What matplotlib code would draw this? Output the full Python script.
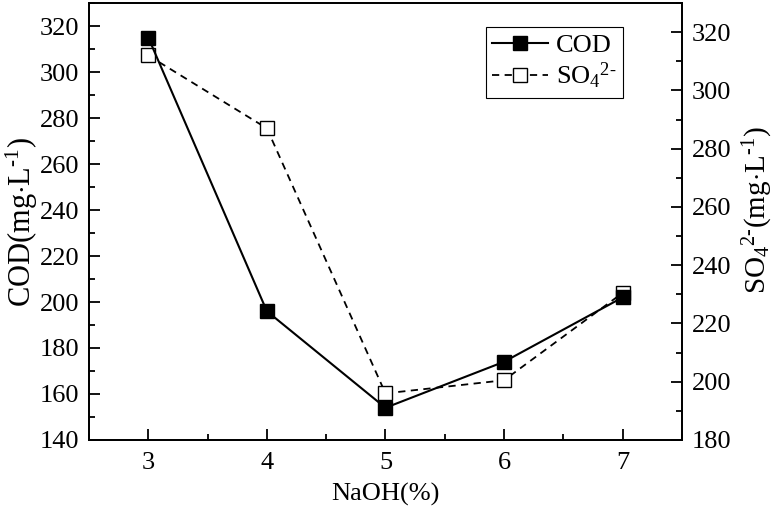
import matplotlib
matplotlib.use('Agg')
import matplotlib.pyplot as plt
from matplotlib.ticker import MultipleLocator

# ---- data ----
naoh = [3, 4, 5, 6, 7]
cod = [315, 196, 154, 174, 202]
so4 = [312, 287, 196, 200.5, 230.5]

plt.rcParams['font.family'] = 'serif'
plt.rcParams['font.serif'] = ['Liberation Serif', 'DejaVu Serif']
plt.rcParams['mathtext.fontset'] = 'custom'
plt.rcParams['mathtext.rm'] = 'Liberation Serif'
plt.rcParams['mathtext.it'] = 'Liberation Serif:italic'
plt.rcParams['font.size'] = 19

fig = plt.figure(figsize=(7.74, 5.11), dpi=100)
ax1 = fig.add_axes([0.115, 0.139, 0.766, 0.855])
ax2 = ax1.twinx()

l1, = ax1.plot(naoh, cod, color='black', linewidth=1.5, marker='s',
               markersize=9.5, markerfacecolor='black', label='COD')
l2, = ax2.plot(naoh, so4, color='black', linewidth=1.3, linestyle=(0, (4, 3)),
               marker='s', markersize=9.5, markerfacecolor='white',
               label=r'SO$_4$$^{2\text{-}}$')

ax1.set_xlim(2.5, 7.5)
ax1.set_ylim(140, 330)
ax2.set_ylim(180, 330)

ax1.xaxis.set_major_locator(MultipleLocator(1))
ax1.xaxis.set_minor_locator(MultipleLocator(0.5))
ax1.yaxis.set_major_locator(MultipleLocator(20))
ax1.yaxis.set_minor_locator(MultipleLocator(10))
ax2.yaxis.set_major_locator(MultipleLocator(20))
ax2.yaxis.set_minor_locator(MultipleLocator(10))

for ax in (ax1, ax2):
    ax.tick_params(which='both', direction='in', width=1.3, labelsize=19, pad=7)
    ax.tick_params(which='major', length=8)
    ax.tick_params(which='minor', length=4)
    for s in ax.spines.values():
        s.set_linewidth(1.3)
ax1.tick_params(axis='x', pad=9)

ax1.set_xlabel('NaOH(%)', fontsize=19, labelpad=6)
ax1.set_ylabel(r'COD(mg$\cdot$L$^{\text{-}1}$)', fontsize=22, labelpad=0)
ax2.set_ylabel(r'SO$_4$$^{2\text{-}}$(mg$\cdot$L$^{\text{-}1}$)', fontsize=21,
               labelpad=3)
ax2.yaxis.set_label_coords(1.1, 0.525)

leg = ax1.legend(handles=[l1, l2], loc='upper right',
                 bbox_to_anchor=(0.9005, 0.945), borderaxespad=0,
                 fancybox=False, framealpha=1, edgecolor='black',
                 fontsize=19, handlelength=2.1, handletextpad=0.3,
                 borderpad=0.25, labelspacing=0.15)
leg.get_frame().set_linewidth(0.8)
ax1.set_zorder(ax2.get_zorder() + 1)
ax1.patch.set_visible(False)

fig.savefig('out.png', dpi=100)
